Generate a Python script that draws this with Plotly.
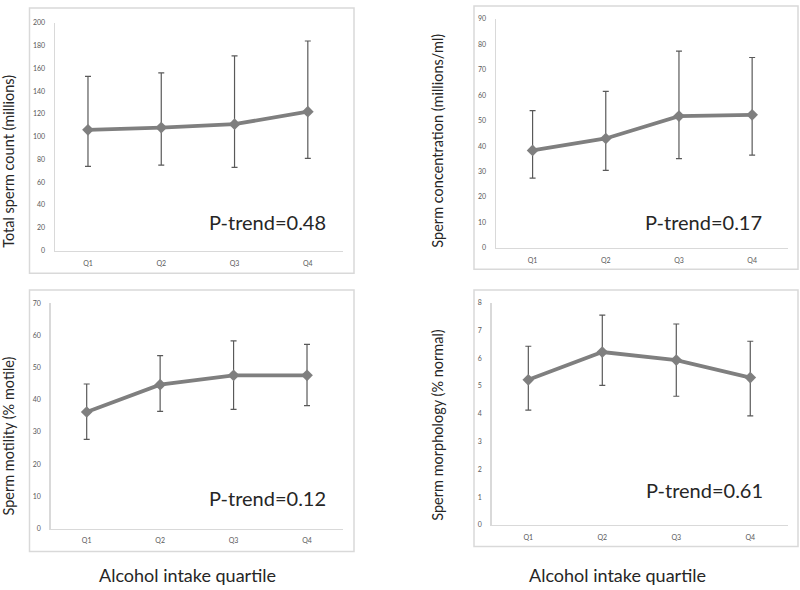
import plotly.graph_objects as go

W, H = 800, 590

quartiles = ["Q1", "Q2", "Q3", "Q4"]

count_mean = [106, 108, 111, 122]
count_upper = [153, 156, 171, 184]
count_lower = [74, 75, 73, 81]

conc_mean = [38.3, 43.0, 51.8, 52.3]
conc_upper = [53.9, 61.5, 77.3, 74.8]
conc_lower = [27.4, 30.5, 35.1, 36.5]

motil_mean = [36.2, 44.7, 47.6, 47.6]
motil_upper = [44.9, 53.7, 58.3, 57.2]
motil_lower = [27.7, 36.4, 37.0, 38.2]

morph_mean = [5.22, 6.22, 5.93, 5.30]
morph_upper = [6.43, 7.55, 7.23, 6.61]
morph_lower = [4.13, 5.02, 4.63, 3.92]

y_titles = ["Total sperm count (millions)", "Sperm concentration (millions/ml)",
            "Sperm motility (% motile)", "Sperm morphology (% normal)"]
p_labels = ["P-trend=0.48", "P-trend=0.17", "P-trend=0.12", "P-trend=0.61"]
x_title = "Alcohol intake quartile"
y_ranges = [(0, 200, 20), (0, 90, 10), (0, 70, 10), (0, 8, 1)]

series = [
    (count_mean, count_upper, count_lower),
    (conc_mean, conc_upper, conc_lower),
    (motil_mean, motil_upper, motil_lower),
    (morph_mean, morph_upper, morph_lower),
]

# layout geometry in pixels
geo = [
    (55, 343, 249, 18, (-0.45, 3.48)),
    (496, 788, 246.3, 14, (-0.5, 3.49)),
    (50.7, 343, 530.7, 302.3, (-0.49, 3.49)),
    (491.7, 788, 527, 301.7, (-0.495, 3.51)),
]
boxes = [(29.5, 3, 354, 272), (474, 1, 798, 268), (29.5, 289, 354, 554), (474, 289, 798, 549)]
ytitle_pos = [(9, 159), (438, 137.5), (9, 437.5), (438, 425.5)]
p_pos = [(267, 220), (703, 220), (267, 500), (704, 492)]
xtitle_pos = [(187, 578), (617, 578)]

LINE = "#7f7f7f"
ERR = "#595959"
AX = "#d9d9d9"
TXT = "#262626"
FONT = "Lato"

def px(x):
    return x / W

def py(y):
    return 1 - y / H

fig = go.Figure()
layout = dict(width=W, height=H, margin=dict(l=0, r=0, t=0, b=0),
              paper_bgcolor="white", plot_bgcolor="white", showlegend=False,
              font=dict(family=FONT, color=TXT))
annotations = []
shapes = []

for i, ((m, up, lo), (xl, xr, y0, y1, xr_rng), (ymin, ymax, dt)) in enumerate(zip(series, geo, y_ranges)):
    n = "" if i == 0 else str(i + 1)
    fig.add_trace(go.Scatter(
        x=quartiles, y=m, mode="lines+markers",
        line=dict(color=LINE, width=3.8),
        marker=dict(symbol="diamond", size=9, color=LINE),
        error_y=dict(type="data", symmetric=False,
                     array=[u - v for u, v in zip(up, m)],
                     arrayminus=[v - l for v, l in zip(m, lo)],
                     color=ERR, thickness=1.2, width=3),
        xaxis="x" + n, yaxis="y" + n, cliponaxis=False,
    ))
    layout["xaxis" + n] = dict(
        domain=[px(xl), px(xr)], anchor="y" + n, type="category",
        range=list(xr_rng), showline=True, linecolor=AX, linewidth=1.5,
        showgrid=False, zeroline=False, ticks="outside", ticklen=5,
        tickcolor="rgba(0,0,0,0)", tickfont=dict(size=7, color="#595959", family=FONT),
        fixedrange=True,
    )
    layout["yaxis" + n] = dict(
        domain=[py(y0), py(y1)], anchor="x" + n, range=[ymin, ymax],
        dtick=dt, tick0=0, showline=True, linecolor=AX, linewidth=1.5,
        showgrid=False, zeroline=False, ticks="outside", ticklen=7,
        tickcolor="rgba(0,0,0,0)", tickfont=dict(size=7, color="#595959", family=FONT),
        fixedrange=True,
    )
    bx0, by0, bx1, by1 = boxes[i]
    shapes.append(dict(type="rect", xref="paper", yref="paper",
                       x0=px(bx0), x1=px(bx1), y0=py(by0), y1=py(by1),
                       line=dict(color=AX, width=1.5), fillcolor="rgba(0,0,0,0)",
                       layer="below"))
    tx, ty = ytitle_pos[i]
    annotations.append(dict(text=y_titles[i], x=px(tx), y=py(ty), xref="paper", yref="paper",
                            textangle=-90, showarrow=False, xanchor="center", yanchor="middle",
                            font=dict(size=14.5, color=TXT, family=FONT)))
    ptx, pty = p_pos[i]
    annotations.append(dict(text=p_labels[i], x=px(ptx), y=py(pty), xref="paper", yref="paper",
                            showarrow=False, xanchor="center", yanchor="middle",
                            font=dict(size=20, color=TXT, family=FONT)))

for tx, ty in xtitle_pos:
    annotations.append(dict(text=x_title, x=px(tx), y=py(ty), xref="paper", yref="paper",
                            showarrow=False, xanchor="center", yanchor="middle",
                            font=dict(size=18, color=TXT, family=FONT)))

layout["annotations"] = annotations
layout["shapes"] = shapes
fig.update_layout(**layout)
fig.write_html("out.html", config={"displayModeBar": False, "staticPlot": True},
               post_script="document.body.style.margin='0';document.body.style.overflow='hidden';")
